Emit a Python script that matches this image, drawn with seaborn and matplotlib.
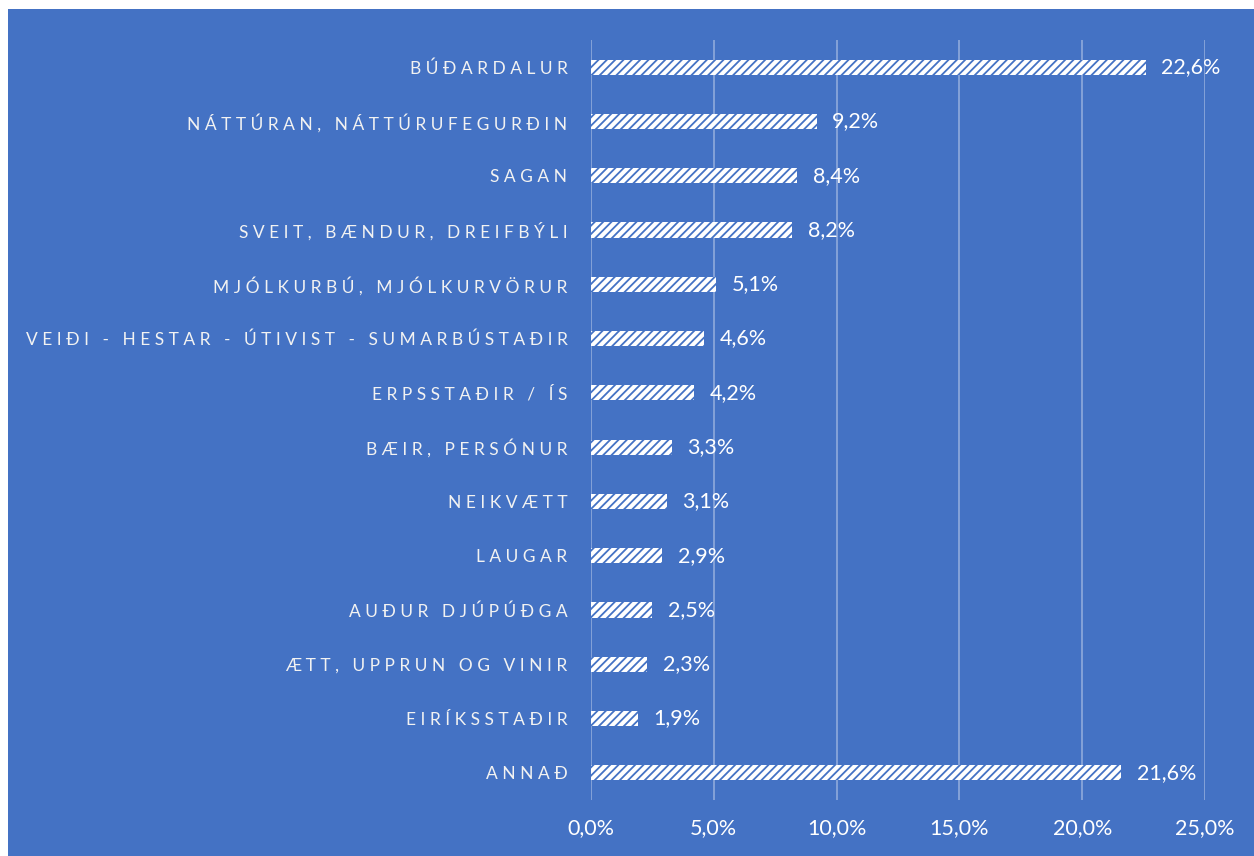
import matplotlib
matplotlib.use("Agg")
import matplotlib.pyplot as plt
from matplotlib.patches import Rectangle
from matplotlib.ticker import FuncFormatter, MultipleLocator
import seaborn as sns
import pandas as pd

categories = [
    "BÚÐARDALUR",
    "NÁTTÚRAN, NÁTTÚRUFEGURÐIN",
    "SAGAN",
    "SVEIT, BÆNDUR, DREIFBÝLI",
    "MJÓLKURBÚ, MJÓLKURVÖRUR",
    "VEIÐI - HESTAR - ÚTIVIST - SUMARBÚSTAÐIR",
    "ERPSSTAÐIR / ÍS",
    "BÆIR, PERSÓNUR",
    "NEIKVÆTT",
    "LAUGAR",
    "AUÐUR DJÚPÚÐGA",
    "ÆTT, UPPRUN OG VINIR",
    "EIRÍKSSTAÐIR",
    "ANNAÐ",
]
values = [22.6, 9.2, 8.4, 8.2, 5.1, 4.6, 4.2, 3.3, 3.1, 2.9, 2.5, 2.3, 1.9, 21.6]

BLUE = "#4472C4"
GRID = "#8FAADC"

sns.set_theme(style="white")
plt.rcParams["font.family"] = ["Lato", "DejaVu Sans"]
plt.rcParams["hatch.linewidth"] = 1.3
plt.rcParams["hatch.color"] = BLUE

df = pd.DataFrame({"cat": categories, "val": values})

fig = plt.figure(figsize=(12.54, 8.56), dpi=100)
fig.patch.set_facecolor("white")
fig.patches.append(Rectangle((8 / 1254, 0), 1, 1 - 9 / 856, transform=fig.transFigure,
                             facecolor=BLUE, edgecolor="none", zorder=-10))

ax = fig.add_axes([591 / 1254, 1 - 800 / 856, (1205 - 591) / 1254, (800 - 40) / 856])
ax.set_facecolor("none")

sns.barplot(data=df, y="cat", x="val", orient="h", ax=ax, color="white",
            saturation=1, width=0.28, hatch="////", edgecolor=BLUE, linewidth=0)

ax.set_xlim(0, 25)
ax.set_ylim(len(categories) - 0.5, -0.5)
ax.xaxis.set_major_locator(MultipleLocator(5))
ax.xaxis.set_major_formatter(FuncFormatter(lambda v, p: f"{v:.1f}%".replace(".", ",")))
ax.grid(axis="x", color=GRID, linewidth=1.2)
ax.set_axisbelow(True)
for s in ax.spines.values():
    s.set_visible(False)

ax.set_xlabel("")
ax.set_ylabel("")
spaced = [" ".join(list(c)) for c in categories]
ax.set_yticks(range(len(categories)))
ax.set_yticklabels(spaced, fontsize=12.5, color="#F2F2F2")
ax.tick_params(axis="y", length=0, pad=17)
ax.tick_params(axis="x", length=0, pad=13, labelsize=15.5, labelcolor="white")

labels = [f"{v:.1f}%".replace(".", ",") for v in values]
ax.bar_label(ax.containers[0], labels=labels, padding=11, color="white", fontsize=15.5)

fig.savefig("out.png", dpi=100, facecolor=fig.get_facecolor())
